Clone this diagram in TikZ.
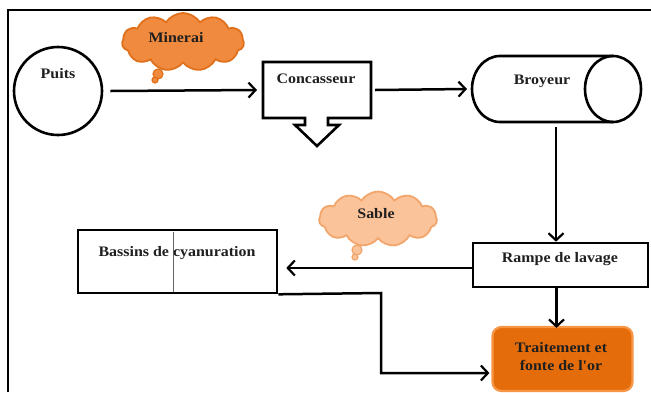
\documentclass[tikz,border=0pt]{standalone}
\usepackage{fontspec}
\setmainfont{Liberation Serif}
\newfontfamily\diafont[FakeStretch=1.1]{Liberation Serif}
\usetikzlibrary{arrows.meta,shapes.symbols}
\definecolor{txt}{HTML}{1F1F1F}
\definecolor{mineraifill}{HTML}{F08A3E}
\definecolor{mineraidraw}{HTML}{E0701C}
\definecolor{sablefill}{HTML}{FAC39A}
\definecolor{sabledraw}{HTML}{F2A66C}
\definecolor{orfill}{HTML}{E46C0A}
\definecolor{ordraw}{HTML}{F79646}
\tikzset{
  lbl/.style={font=\diafont\fontsize{14.5}{17}\selectfont\bfseries, text=txt, inner sep=0pt},
  boxline/.style={draw=black, line width=2.6pt},
  arr/.style={line width=2.5pt, -{Straight Barb[length=7pt,width=15pt,line width=2.2pt]}},
  conn/.style={line width=2.5pt},
  anchorbox/.style={inner sep=0pt, outer sep=0pt},
  cloudy/.style={cloud, cloud puffs=11, cloud puff arc=115, aspect=2.1, inner sep=0pt, line width=1.8pt},
}
\begin{document}
\begin{tikzpicture}[x=1pt,y=-1pt]
\useasboundingbox (0,0) rectangle (651,392);
\fill[white] (0,0) rectangle (651,392);
% frame
\draw[line width=1.3pt] (8,392) -- (8,10) -- (651,10);

% Puits
\node[circle, draw, line width=2.6pt, minimum width=88pt, inner sep=0pt] (puits) at (58,91) {};
\node[lbl] (puitstxt) at (58,74) {Puits};

% Minerai cloud
\node[cloudy, fill=mineraifill, draw=mineraidraw, minimum width=122pt, minimum height=58pt] (minerai) at (183,42) {};
\node[circle, fill=mineraifill, draw=mineraidraw, line width=1.2pt, minimum size=10pt, inner sep=0pt] (mb1) at (158,74) {};
\node[circle, fill=mineraifill, draw=mineraidraw, line width=1.2pt, minimum size=6pt, inner sep=0pt] (mb2) at (155,80) {};
\node[lbl] (mineraitxt) at (176,38) {Minerai};

% Concasseur callout
\node[anchorbox, minimum width=108pt, minimum height=56pt] (conc) at (317,90) {};
\draw[boxline, line join=miter, fill=white] (conc.north west) -- (conc.north east) -- (conc.south east)
  -- (328,118) -- (328,125) -- (339,125) -- (317,146) -- (295,125) -- (305,125) -- (305,118) -- (conc.south west) -- cycle;
\node[lbl] (conctxt) at (316,79) {Concasseur};

% Broyeur cylinder
\node[anchorbox, minimum width=170pt, minimum height=66pt] (broy) at (557,89) {};
\fill[white] (500,56) -- (613,56) -- (613,122) -- (500,122)
  arc[start angle=90, end angle=270, x radius=28, y radius=33] -- cycle;
\draw[boxline] (613,122) -- (500,122)
  arc[start angle=90, end angle=270, x radius=28, y radius=33] -- (613,56);
\draw[boxline] (613,89) ellipse [x radius=28pt, y radius=33pt];
\node[lbl] (broytxt) at (542,81) {Broyeur};

% Rampe de lavage
\node[boxline, fill=white, minimum width=175pt, minimum height=44pt, inner sep=0pt] (rampe) at (560.5,265) {};
\node[lbl] (rampetxt) at (560,259) {Rampe de lavage};

% Bassins de cyanuration
\node[boxline, fill=white, minimum width=199pt, minimum height=63pt, inner sep=0pt] (bassins) at (177.5,261.5) {};
\draw[line width=0.8pt, draw=gray!80!black] (173,231.5) -- (173,291.5);
\node[lbl] (bassinstxt) at (177,253) {Bassins de cyanuration};

% Sable cloud
\node[cloudy, fill=sablefill, draw=sabledraw, minimum width=118pt, minimum height=55pt] (sable) at (378,219) {};
\node[circle, fill=sablefill, draw=sabledraw, line width=1.2pt, minimum size=10pt, inner sep=0pt] (sb1) at (357,250) {};
\node[circle, fill=sablefill, draw=sabledraw, line width=1.2pt, minimum size=6pt, inner sep=0pt] (sb2) at (355,257) {};
\node[lbl] (sabletxt) at (376,214) {Sable};

% Traitement
\node[rounded corners=9pt, fill=orfill, draw=ordraw, line width=2.2pt, minimum width=140pt, minimum height=64pt, inner sep=0pt] (trait) at (562.5,359) {};
\node[lbl, align=center] (traittxt) at (561,357) {Traitement et\\[1pt]fonte de l'or};

% connectors
\draw[arr] ([xshift=7pt]puits.east) -- ([xshift=-6pt]conc.west);
\draw[arr] ([xshift=4pt]conc.east) -- ([xshift=-5pt]broy.west);
\draw[arr, shorten <=5pt] ([xshift=-1pt]broy.south) -- ([xshift=-1pt]broy.south |- rampe.north);
\draw[arr] ([yshift=-3pt]rampe.west) -- ([xshift=8pt,yshift=-3pt]bassins.east |- rampe.west);
\draw[arr] ([xshift=-4pt]rampe.south) -- ([xshift=-4pt,yshift=-2pt]rampe.south |- trait.north);
\draw[conn, -{Straight Barb[length=7pt,width=15pt,line width=2.2pt]}] (bassins.south east) -- (381,293) -- (381,373) -- ([xshift=-2pt]trait.west |- 0,373);
\end{tikzpicture}
\end{document}
